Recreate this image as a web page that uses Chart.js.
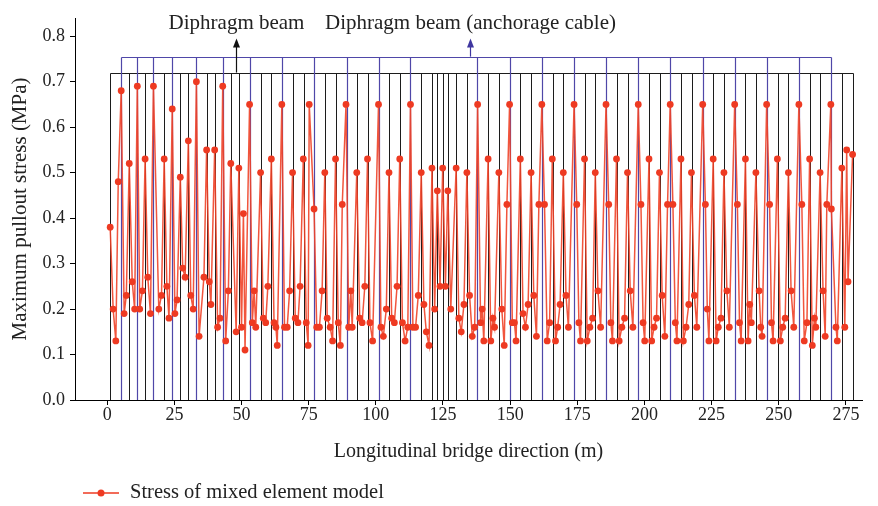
<!DOCTYPE html>
<html>
<head>
<meta charset="utf-8">
<script src="https://cdn.jsdelivr.net/npm/chart.js@4/dist/chart.umd.min.js"></script>
<style>
  html, body { margin: 0; padding: 0; background: #fff; }
  #contenedor { position: relative; width: 878px; height: 506px; }
</style>
</head>
<body>
<div id="contenedor"><canvas id="grafica" width="878" height="506"></canvas></div>
<script>
// Posicion longitudinal (m) y esfuerzo maximo de arranque (MPa)
const POSICION = [
  1.1, 2.2, 3.2, 4.1, 5.2, 6.3, 7.1, 8.2, 9.3, 10.2, 11.2, 12.1, 13.1, 14.1, 15.1, 16.1, 17.2,
  19.2, 20.2, 21.2, 22.2, 23.0, 24.2, 25.2, 26.0, 27.2, 28.1, 29.0, 30.2, 31.1, 32.0, 33.2, 34.2,
  36.0, 37.0, 38.0, 38.6, 40.0, 41.1, 42.0, 43.0, 44.1, 45.1, 46.0, 48.0, 49.0, 50.0, 50.7, 51.3,
  53.0, 54.0, 54.7, 55.3, 57.1, 58.1, 59.0, 59.8, 61.1, 62.1, 62.8, 63.3, 65.0, 66.0, 67.0, 67.9,
  69.0, 70.0, 71.0, 71.8, 73.0, 74.1, 74.8, 75.2, 77.0, 78.0, 79.0, 80.0, 81.0, 81.9, 83.0, 83.9,
  85.0, 86.0, 86.8, 87.5, 88.9, 89.9, 90.7, 91.2, 92.9, 94.0, 94.9, 95.9, 96.9, 97.8, 98.8,
  101.0, 101.9, 102.8, 103.9, 104.9, 105.9, 106.9, 107.9, 108.9, 109.9, 110.9, 111.9, 112.9,
  113.8, 114.8, 115.8, 116.9, 117.9, 118.8, 119.8, 120.9, 121.9, 122.9, 123.9, 124.9, 125.9,
  126.8, 127.9, 129.9, 130.9, 131.8, 132.8, 133.9, 134.9, 135.9, 136.8, 137.9, 139.0, 139.6,
  140.2, 141.8, 142.8, 143.6, 144.2, 145.8, 146.9, 147.8, 148.8, 149.8, 150.8, 151.6, 152.2,
  153.8, 154.8, 155.7, 156.7, 157.8, 158.8, 159.8, 160.7, 161.8, 162.8, 163.8, 164.7, 165.7,
  166.9, 167.7, 168.6, 169.8, 170.8, 171.7, 173.8, 174.8, 175.6, 176.2, 177.7, 178.7, 179.7,
  180.7, 181.7, 182.7, 183.7, 185.7, 186.7, 187.5, 188.1, 189.6, 190.6, 191.6, 192.6, 193.7,
  194.7, 195.7, 197.7, 198.7, 199.5, 200.1, 201.7, 202.7, 203.6, 204.5, 205.6, 206.6, 207.6,
  208.6, 209.6, 210.6, 211.5, 212.1, 213.6, 214.5, 215.5, 216.5, 217.5, 218.6, 219.5, 221.7,
  222.7, 223.4, 224.0, 225.6, 226.7, 227.5, 228.5, 229.6, 230.7, 231.6, 233.6, 234.6, 235.4,
  236.0, 237.6, 238.6, 239.2, 239.8, 241.5, 242.7, 243.3, 243.8, 245.5, 246.6, 247.3, 247.9,
  249.5, 250.6, 251.5, 252.4, 253.6, 254.6, 255.6, 257.5, 258.6, 259.5, 260.5, 261.5, 262.5,
  263.3, 263.8, 265.4, 266.5, 267.3, 267.9, 269.4, 269.6, 271.3, 271.8, 273.5, 274.6, 275.3,
  275.8, 277.5,
];
const ESFUERZO = [
  0.38, 0.20, 0.13, 0.48, 0.68, 0.19, 0.23, 0.52, 0.26, 0.20, 0.69, 0.20, 0.24, 0.53, 0.27, 0.19, 0.69,
  0.20, 0.23, 0.53, 0.25, 0.18, 0.64, 0.19, 0.22, 0.49, 0.29, 0.27, 0.57, 0.23, 0.20, 0.70, 0.14,
  0.27, 0.55, 0.26, 0.21, 0.55, 0.16, 0.18, 0.69, 0.13, 0.24, 0.52, 0.15, 0.51, 0.16, 0.41, 0.11,
  0.65, 0.17, 0.24, 0.16, 0.50, 0.18, 0.17, 0.25, 0.53, 0.17, 0.16, 0.12, 0.65, 0.16, 0.16, 0.24,
  0.50, 0.18, 0.17, 0.25, 0.53, 0.17, 0.12, 0.65, 0.42, 0.16, 0.16, 0.24, 0.50, 0.18, 0.16, 0.13,
  0.53, 0.17, 0.12, 0.43, 0.65, 0.16, 0.24, 0.16, 0.50, 0.18, 0.17, 0.25, 0.53, 0.17, 0.13,
  0.65, 0.16, 0.14, 0.20, 0.50, 0.18, 0.17, 0.25, 0.53, 0.17, 0.13, 0.16, 0.65,
  0.16, 0.16, 0.23, 0.50, 0.21, 0.15, 0.12, 0.51, 0.20, 0.46, 0.25, 0.51, 0.25,
  0.46, 0.20, 0.51, 0.18, 0.15, 0.21, 0.50, 0.23, 0.14, 0.16, 0.65, 0.17, 0.20,
  0.13, 0.53, 0.13, 0.18, 0.16, 0.50, 0.20, 0.12, 0.43, 0.65, 0.17, 0.17, 0.13,
  0.53, 0.19, 0.16, 0.21, 0.50, 0.23, 0.14, 0.43, 0.65, 0.43, 0.13, 0.17, 0.53,
  0.13, 0.16, 0.21, 0.50, 0.23, 0.16, 0.65, 0.43, 0.17, 0.13, 0.53, 0.13, 0.16,
  0.18, 0.50, 0.24, 0.16, 0.65, 0.43, 0.17, 0.13, 0.53, 0.13, 0.16, 0.18, 0.50,
  0.24, 0.16, 0.65, 0.43, 0.17, 0.13, 0.53, 0.13, 0.16, 0.18, 0.50, 0.23, 0.14,
  0.43, 0.65, 0.43, 0.17, 0.13, 0.53, 0.13, 0.16, 0.21, 0.50, 0.23, 0.16, 0.65,
  0.43, 0.20, 0.13, 0.53, 0.13, 0.16, 0.18, 0.50, 0.24, 0.16, 0.65, 0.43, 0.17,
  0.13, 0.53, 0.13, 0.21, 0.17, 0.50, 0.24, 0.16, 0.14, 0.65, 0.43, 0.17, 0.13,
  0.53, 0.13, 0.16, 0.18, 0.50, 0.24, 0.16, 0.65, 0.43, 0.13, 0.17, 0.53, 0.12,
  0.18, 0.16, 0.50, 0.24, 0.14, 0.43, 0.65, 0.42, 0.16, 0.13, 0.51, 0.16, 0.55,
  0.26, 0.54,
];

// Vigas de diafragma (lineas negras) y vigas con cable de anclaje (lineas azules)
const VIGAS_DIAFRAGMA = [
  1.1, 5.2, 8.2, 11.2, 14.1, 17.2, 21.2, 24.2, 27.2, 30.2, 33.2, 37.0, 40.0, 43.0, 46.0, 49.0,
  53.0, 57.1, 61.1, 65.0, 69.0, 73.1, 77.0, 81.0, 85.0, 89.1, 92.9, 97.0, 101.0, 104.9, 108.9,
  112.9, 116.9, 120.9, 122.9, 124.9, 126.8, 129.9, 133.9, 137.8, 141.8, 145.8, 149.8, 153.8,
  157.8, 161.8, 165.8, 169.8, 173.8, 177.8, 181.7, 185.7, 189.7, 193.7, 197.7, 201.7, 205.7,
  209.7, 213.7, 217.7, 221.7, 225.6, 229.6, 233.6, 237.6, 241.6, 245.6, 249.6, 253.5, 257.5,
  261.5, 265.5, 269.5, 273.5, 277.5,
];
const VIGAS_ANCLAJE = [
  5.2, 11.2, 17.2, 24.2, 33.2, 43.0, 53.0, 65.0, 77.0, 89.1, 101.0, 112.9, 137.8, 149.8,
  161.8, 173.8, 185.7, 197.7, 209.7, 221.7, 233.6, 245.6, 257.5, 269.5,
];
const ALTURA_DIAFRAGMA = 0.72;
const ALTURA_ANCLAJE = 0.755;

// Flechas de las etiquetas: [posicion, texto]
const ETIQUETA_DIAFRAGMA = [48.0, "Diphragm beam"];
const ETIQUETA_ANCLAJE = [135.1, "Diphragm beam (anchorage cable)"];

const TICKS_X = [0, 25, 50, 75, 100, 125, 150, 175, 200, 225, 250, 275];
const TICKS_Y = [0.0, 0.1, 0.2, 0.3, 0.4, 0.5, 0.6, 0.7, 0.8];

const FUENTE = "'Liberation Serif', 'DejaVu Serif', serif";
const ROJO = "#ee3a22";
const AZUL = "#4f47a8";

const lineasVigas = {
  id: "lineasVigas",
  beforeDatasetsDraw(chart) {
    const { ctx, scales: { x, y } } = chart;
    const dibujarGrupo = (posiciones, altura, color, ancho) => {
      const yBase = y.getPixelForValue(0);
      const yTope = Math.round(y.getPixelForValue(altura)) + 0.5;
      ctx.save();
      ctx.strokeStyle = color;
      ctx.lineWidth = ancho;
      ctx.beginPath();
      posiciones.forEach((p) => {
        const px = Math.round(x.getPixelForValue(p)) + 0.5;
        ctx.moveTo(px, yBase);
        ctx.lineTo(px, yTope);
      });
      ctx.moveTo(Math.round(x.getPixelForValue(posiciones[0])) + 0.5, yTope);
      ctx.lineTo(Math.round(x.getPixelForValue(posiciones[posiciones.length - 1])) + 0.5, yTope);
      ctx.stroke();
      ctx.restore();
    };
    dibujarGrupo(VIGAS_DIAFRAGMA, ALTURA_DIAFRAGMA, "#1c1c1c", 1);
    dibujarGrupo(VIGAS_ANCLAJE, ALTURA_ANCLAJE, AZUL, 1.2);
  },
  afterDraw(chart) {
    const { ctx, scales: { x, y } } = chart;
    const dibujarFlecha = (etiqueta, desde, color) => {
      const px = Math.round(x.getPixelForValue(etiqueta[0])) + 0.5;
      const y0 = y.getPixelForValue(desde);
      const y1 = y.getPixelForValue(0.795);
      ctx.save();
      ctx.strokeStyle = color;
      ctx.fillStyle = color;
      ctx.lineWidth = 1.2;
      ctx.beginPath();
      ctx.moveTo(px, y0);
      ctx.lineTo(px, y1 + 6);
      ctx.stroke();
      ctx.beginPath();
      ctx.moveTo(px, y1);
      ctx.lineTo(px - 3.5, y1 + 9);
      ctx.lineTo(px + 3.5, y1 + 9);
      ctx.closePath();
      ctx.fill();
      ctx.fillStyle = "#222";
      ctx.font = "21px " + FUENTE;
      ctx.textAlign = "center";
      ctx.textBaseline = "middle";
      ctx.fillText(etiqueta[1], px, y.getPixelForValue(0.828));
      ctx.restore();
    };
    dibujarFlecha(ETIQUETA_DIAFRAGMA, ALTURA_DIAFRAGMA, "#111");
    dibujarFlecha(ETIQUETA_ANCLAJE, ALTURA_ANCLAJE, "#3f37a0");

    // Leyenda
    const ly = 493;
    ctx.save();
    ctx.strokeStyle = ROJO;
    ctx.fillStyle = ROJO;
    ctx.lineWidth = 1.5;
    ctx.beginPath();
    ctx.moveTo(83, ly);
    ctx.lineTo(119, ly);
    ctx.stroke();
    ctx.beginPath();
    ctx.arc(101, ly, 3.5, 0, Math.PI * 2);
    ctx.fill();
    ctx.fillStyle = "#222";
    ctx.font = "20.5px " + FUENTE;
    ctx.textAlign = "left";
    ctx.textBaseline = "middle";
    ctx.fillText("Stress of mixed element model", 130, ly);
    ctx.restore();
  },
};

const puntos = POSICION.map((p, i) => ({ x: p, y: ESFUERZO[i] }));

new Chart(document.getElementById("grafica"), {
  type: "line",
  data: {
    datasets: [
      {
        label: "Stress of mixed element model",
        data: puntos,
        borderColor: "rgba(240, 66, 40, 0.9)",
        borderWidth: 1.5,
        pointBackgroundColor: ROJO,
        pointBorderColor: ROJO,
        pointBorderWidth: 0,
        pointRadius: 3.4,
        tension: 0,
        fill: false,
      },
    ],
  },
  options: {
    responsive: false,
    animation: false,
    layout: { padding: { left: 0, right: 16, top: 18, bottom: 40 } },
    plugins: {
      legend: { display: false },
      tooltip: { enabled: false },
    },
    scales: {
      x: {
        type: "linear",
        min: -12,
        max: 281,
        afterBuildTicks(scale) {
          scale.ticks = TICKS_X.map((v) => ({ value: v }));
        },
        afterFit(scale) {
          scale.height = 66;
        },
        grid: { drawOnChartArea: false, drawTicks: true, tickLength: 5, color: "#000" },
        border: { display: true, color: "#000", width: 1 },
        ticks: { color: "#222", padding: -1, font: { family: FUENTE, size: 18 }, maxRotation: 0 },
        title: {
          display: true,
          text: "Longitudinal bridge direction (m)",
          color: "#222",
          font: { family: FUENTE, size: 20 },
          padding: { top: 0, bottom: 2 },
        },
      },
      y: {
        type: "linear",
        min: 0,
        max: 0.84,
        afterBuildTicks(scale) {
          scale.ticks = TICKS_Y.map((v) => ({ value: v }));
        },
        afterFit(scale) {
          scale.width = 75;
        },
        grid: { drawOnChartArea: false, drawTicks: true, tickLength: 5, color: "#000" },
        border: { display: true, color: "#000", width: 1 },
        ticks: {
          color: "#222",
          padding: 5,
          font: { family: FUENTE, size: 18 },
          callback: (v) => Number(v).toFixed(1),
        },
        title: {
          display: true,
          text: "Maximum pullout stress (MPa)",
          color: "#222",
          font: { family: FUENTE, size: 21 },
          padding: { top: 8, bottom: 0 },
        },
      },
    },
  },
  plugins: [lineasVigas],
});
</script>
</body>
</html>
